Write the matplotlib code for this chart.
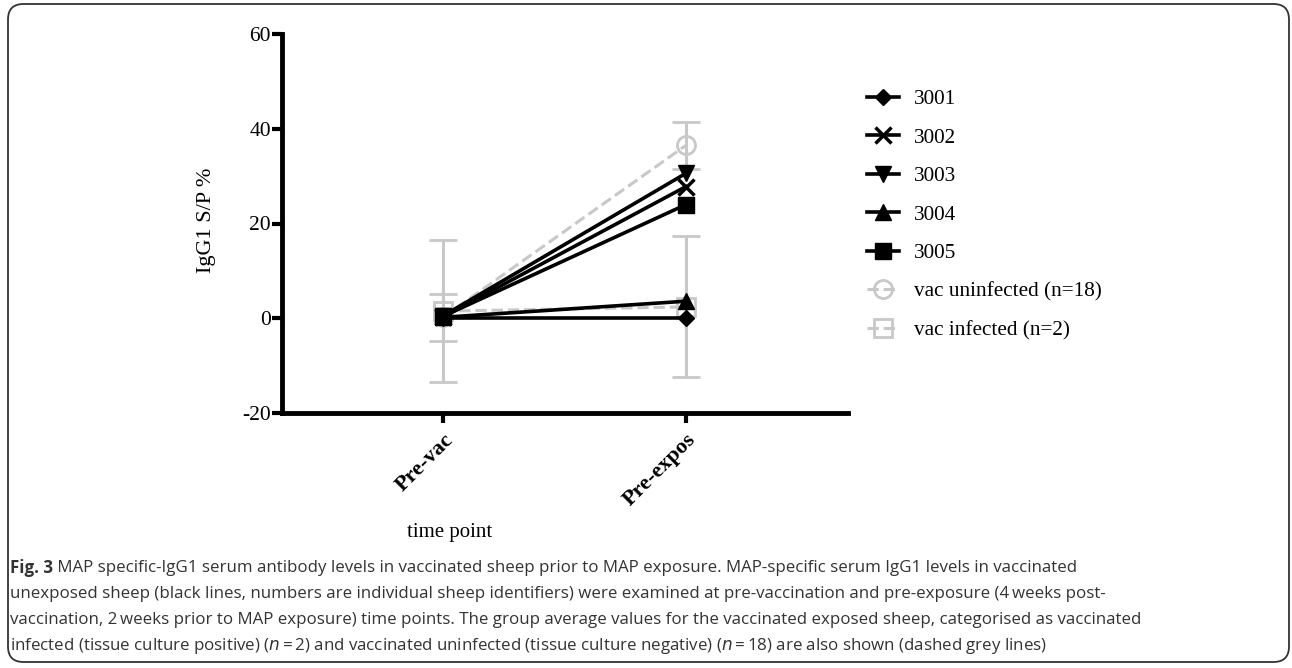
import numpy as np
import matplotlib.pyplot as plt
from matplotlib.patches import FancyBboxPatch
from matplotlib.lines import Line2D

plt.rcParams['axes.unicode_minus'] = False

# data
time_points = ['Pre-vac', 'Pre-expos']
sheep_ids = ['3001', '3002', '3003', '3004', '3005']
sheep_markers = ['D', 'x', 'v', '^', 's']
sheep_values = [
    [0.0, 0.0],
    [0.3, 27.8],
    [0.5, 30.6],
    [0.2, 3.6],
    [0.4, 24.0],
]
uninf_mean = [0.2, 36.5]
uninf_err = [5.0, 5.0]
inf_mean = [1.5, 2.4]
inf_err = [15.0, 14.9]

grey = '#c8c8c8'
serif = 'Liberation Serif'

fig = plt.figure(figsize=(12.92, 6.68), dpi=100)
ax = fig.add_axes([282/1292, 1 - 413/668, (848 - 282)/1292, (413 - 34)/668])

x = np.arange(len(time_points))
handles = []

for lab, mk, vals in zip(sheep_ids, sheep_markers, sheep_values):
    ms = 8 if mk == 'D' else 11
    mew = 2.5 if mk == 'x' else 1
    ax.plot(x, vals, color='black', lw=2.6, marker=mk, ms=ms, mew=mew, zorder=4)
    handles.append(Line2D([], [], color='black', lw=2.6, marker=mk, ms=ms, mew=mew, label=lab))

ax.errorbar(x, uninf_mean, yerr=uninf_err, color=grey, ls='--', lw=2.2,
            marker='o', ms=13, mfc='none', mec=grey, mew=2, capsize=10,
            elinewidth=2.2, capthick=2.2, zorder=3)
ax.errorbar(x, inf_mean, yerr=inf_err, color=grey, ls='--', lw=2.2,
            marker='s', ms=13, mfc='none', mec=grey, mew=2, capsize=10,
            elinewidth=2.2, capthick=2.2, zorder=3)
handles.append(Line2D([], [], color=grey, ls='--', lw=2.2, marker='o', ms=13,
                      mfc='none', mew=2, label='vac uninfected (n=18)'))
handles.append(Line2D([], [], color=grey, ls='--', lw=2.2, marker='s', ms=13,
                      mfc='none', mew=2, label='vac infected (n=2)'))

ax.set_xlim(-0.663, 1.667)
ax.set_ylim(-20, 60)
ax.set_yticks([-20, 0, 20, 40, 60])
ax.set_xticks(x)
ax.set_xticklabels(time_points, rotation=45, ha='right', rotation_mode='anchor',
                   fontfamily=serif, fontweight='bold', fontsize=16)
for t in ax.get_yticklabels():
    t.set_fontfamily(serif)
    t.set_fontsize(15.5)
ax.tick_params(width=3, length=7, pad=1)
ax.tick_params(axis='x', pad=5)
for s in ['top', 'right']:
    ax.spines[s].set_visible(False)
for s in ['left', 'bottom']:
    ax.spines[s].set_linewidth(3.5)

ax.set_ylabel('IgG1 S/P %', fontfamily=serif, fontsize=16)
ax.yaxis.set_label_coords((207 - 282)/566, (413 - 220)/379)
ax.set_xlabel('time point', fontfamily=serif, fontsize=15)
ax.xaxis.set_label_coords((450 - 282)/566, -(533 - 413)/379)
ax.xaxis.label.set_va('center')
ax.yaxis.label.set_va('center')

leg = fig.legend(handles=handles, loc='upper left', bbox_to_anchor=(848/1292, 1 - 70/668),
                 frameon=False, prop={'family': serif, 'size': 15.3},
                 handlelength=1.5, labelspacing=0.88, handletextpad=0.7)

# caption
cap_lines = [
    ' MAP specific-IgG1 serum antibody levels in vaccinated sheep prior to MAP exposure. MAP-specific serum IgG1 levels in vaccinated',
    'unexposed sheep (black lines, numbers are individual sheep identifiers) were examined at pre-vaccination and pre-exposure (4\u2009weeks post-',
    'vaccination, 2\u2009weeks prior to MAP exposure) time points. The group average values for the vaccinated exposed sheep, categorised as vaccinated',
    'infected (tissue culture positive) ($\\mathit{n}$\u2009=\u20092) and vaccinated uninfected (tissue culture negative) ($\\mathit{n}$\u2009=\u200918) are also shown (dashed grey lines)',
]
cap_font = ['Open Sans', 'DejaVu Sans']
fs = 12.2
y0 = 568
t0 = fig.text(10/1292, 1 - y0/668, 'Fig. 3', fontfamily=cap_font, fontweight='bold',
              fontsize=fs, va='center', color='#333333')
fig.canvas.draw()
bb = t0.get_window_extent()
fig.text(bb.x1/1292, 1 - y0/668, cap_lines[0], fontfamily=cap_font, fontsize=fs,
         va='center', color='#333333')
for i, line in enumerate(cap_lines[1:]):
    fig.text(10/1292, 1 - (y0 + 26*(i + 1))/668, line, fontfamily=cap_font, fontsize=fs,
             va='center', color='#333333')

frame = FancyBboxPatch((8/1292, 6/668), 1281/1292, 658/668,
                       boxstyle='round,pad=0,rounding_size=0.012',
                       transform=fig.transFigure, fill=False, ec='#333333', lw=1.3,
                       mutation_aspect=1292/668)
fig.patches.append(frame)

fig.savefig('out.png', dpi=100)
